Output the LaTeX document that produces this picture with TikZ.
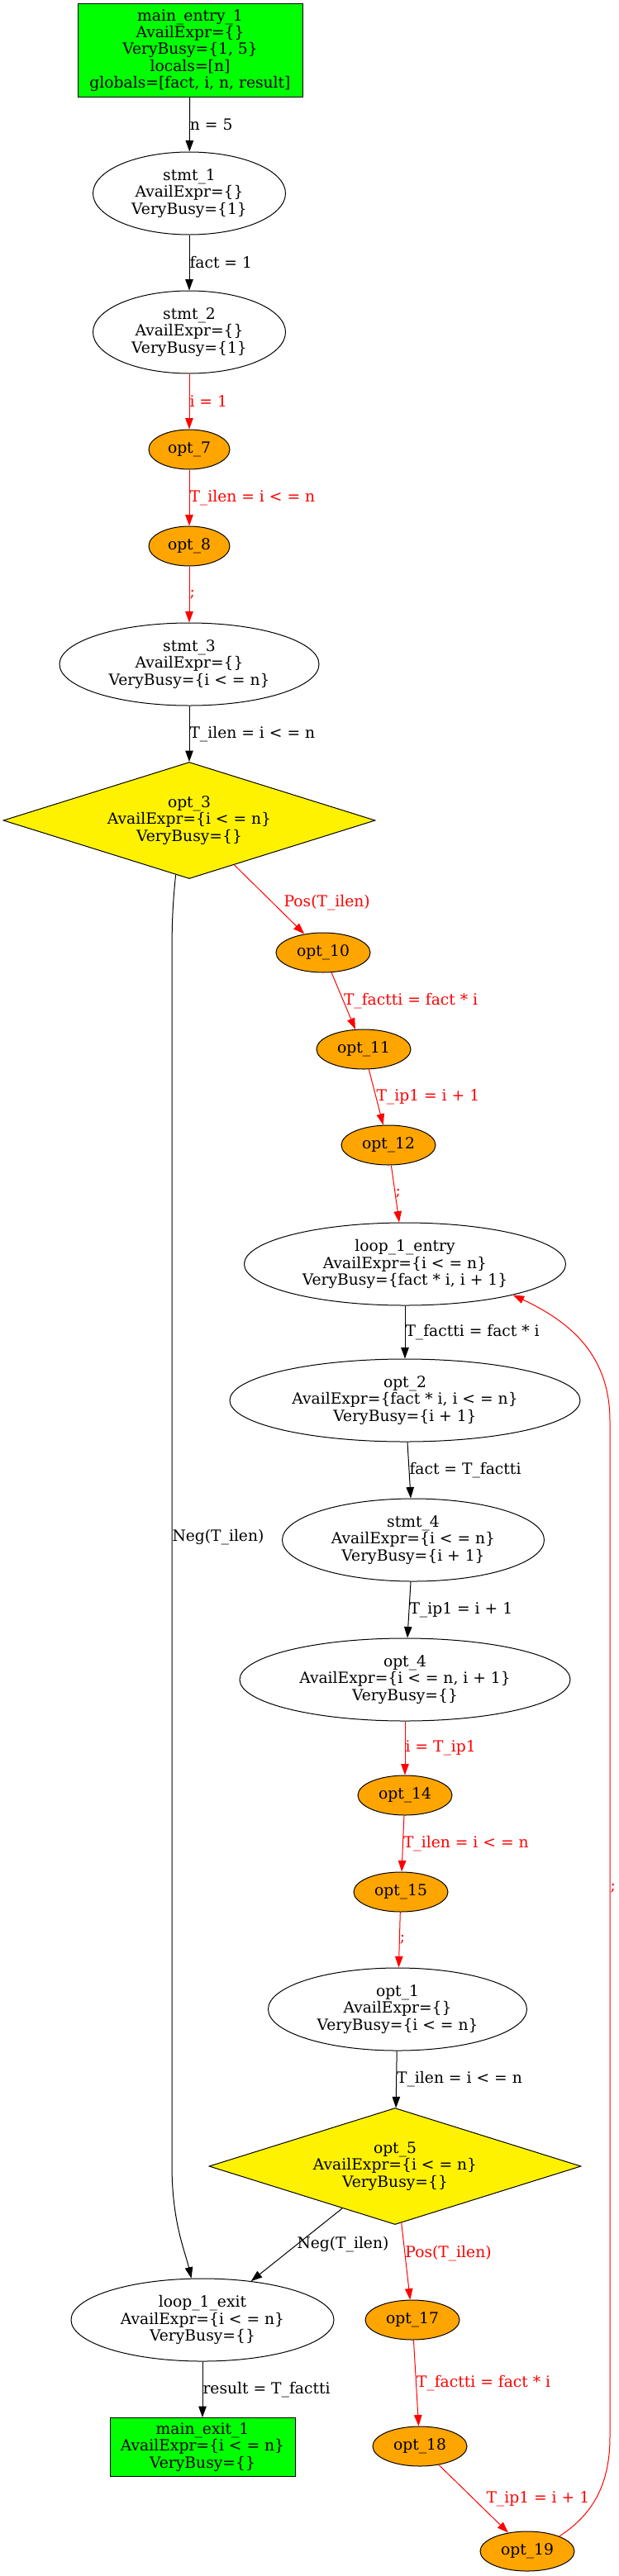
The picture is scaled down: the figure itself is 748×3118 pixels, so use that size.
\documentclass[tikz,border=0pt]{standalone}
\usepackage{fontspec}
\setmainfont{DejaVu Serif}
\usetikzlibrary{arrows.meta,shapes.geometric}
\definecolor{gvorange}{HTML}{FFA500}

\begin{document}
\begin{tikzpicture}[
			x=1pt, y=-1pt,
			every node/.style={
					font=\fontsize{18.7}{20.3}\selectfont,
					align=center,
					inner sep=0pt
				},
			blocknode/.style={draw, line width=1pt, fill=green, rectangle},
			stmtnode/.style={draw, line width=1pt, ellipse, minimum height=100pt},
			optnode/.style={draw, line width=1pt, ellipse, fill=gvorange, minimum width=114pt, minimum height=48pt},
			condnode/.style={draw, line width=1pt, diamond, fill=yellow, aspect=3.2, minimum width=450pt, minimum height=141pt},
			flow/.style={draw, line width=1pt, -{Triangle[length=13.5pt, width=9.5pt]}},
			optflow/.style={flow, red},
			lbl/.style={anchor=west}
		]
		\path[use as bounding box] (0,0) rectangle (748,3118);

		\node[blocknode, minimum width=272pt, minimum height=112pt] (mainentry) at (230,61) {main\_entry\_1\\AvailExpr=\{\}\\VeryBusy=\{1, 5\}\\locals=[n]\\globals=[fact, i, n, result]};
		\node[stmtnode, minimum width=233pt] (stmt1) at (229,234) {stmt\_1\\AvailExpr=\{\}\\VeryBusy=\{1\}};
		\node[stmtnode, minimum width=233pt] (stmt2) at (229,402) {stmt\_2\\AvailExpr=\{\}\\VeryBusy=\{1\}};
		\node[optnode, minimum width=98pt] (opt7) at (229,544) {opt\_7};
		\node[optnode, minimum width=98pt] (opt8) at (229,661) {opt\_8};
		\node[stmtnode, minimum width=314pt] (stmt3) at (229,804) {stmt\_3\\AvailExpr=\{\}\\VeryBusy=\{i < = n\}};
		\node[condnode] (opt3) at (229,993) {opt\_3\\AvailExpr=\{i < = n\}\\VeryBusy=\{\}};
		\node[optnode] (opt10) at (391,1153) {opt\_10};
		\node[optnode] (opt11) at (440,1270) {opt\_11};
		\node[optnode] (opt12) at (470,1386) {opt\_12};
		\node[stmtnode, minimum width=389pt] (loopentry) at (490,1530) {loop\_1\_entry\\AvailExpr=\{i < = n\}\\VeryBusy=\{fact * i, i + 1\}};
		\node[stmtnode, minimum width=424pt] (opt2) at (490,1695) {opt\_2\\AvailExpr=\{fact * i, i < = n\}\\VeryBusy=\{i + 1\}};
		\node[stmtnode, minimum width=317pt] (stmt4) at (500,1864) {stmt\_4\\AvailExpr=\{i < = n\}\\VeryBusy=\{i + 1\}};
		\node[stmtnode, minimum width=400pt] (opt4) at (490,2033) {opt\_4\\AvailExpr=\{i < = n, i + 1\}\\VeryBusy=\{\}};
		\node[optnode] (opt14) at (490,2173) {opt\_14};
		\node[optnode] (opt15) at (485,2290) {opt\_15};
		\node[stmtnode, minimum width=313pt] (opt1) at (481,2432) {opt\_1\\AvailExpr=\{\}\\VeryBusy=\{i < = n\}};
		\node[condnode] (opt5) at (478,2622) {opt\_5\\AvailExpr=\{i < = n\}\\VeryBusy=\{\}};
		\node[stmtnode, minimum width=318pt] (loopexit) at (245,2808) {loop\_1\_exit\\AvailExpr=\{i < = n\}\\VeryBusy=\{\}};
		\node[optnode] (opt17) at (499,2808) {opt\_17};
		\node[blocknode, minimum width=224pt, minimum height=71pt] (mainexit) at (245,2962) {main\_exit\_1\\AvailExpr=\{i < = n\}\\VeryBusy=\{\}};
		\node[optnode] (opt18) at (508,2961) {opt\_18};
		\node[optnode] (opt19) at (638,3088) {opt\_19};

		\draw[flow] (mainentry) -- node[lbl] {n = 5} (stmt1);
		\draw[flow] (stmt1) -- node[lbl] {fact = 1} (stmt2);
		\draw[optflow] (stmt2) -- node[lbl] {i = 1} (opt7);
		\draw[optflow] (opt7) -- node[lbl] {T\_ilen = i < = n} (opt8);
		\draw[optflow] (opt8) -- node[lbl] {;} (stmt3);
		\draw[flow] (stmt3) -- node[lbl] {T\_ilen = i < = n} (opt3);
		\draw[optflow] (opt3) -- node[lbl, pos=0.55, xshift=13pt] {Pos(T\_ilen)} (opt10);
		\draw[optflow] (opt10) -- node[lbl] {T\_factti = fact * i} (opt11);
		\draw[optflow] (opt11) -- node[lbl] {T\_ip1 = i + 1} (opt12);
		\draw[optflow] (opt12) -- node[lbl] {;} (loopentry);
		\draw[flow] (loopentry) -- node[lbl] {T\_factti = fact * i} (opt2);
		\draw[flow] (opt2) -- node[lbl] {fact = T\_factti} (stmt4);
		\draw[flow] (stmt4) -- node[lbl] {T\_ip1 = i + 1} (opt4);
		\draw[optflow] (opt4) -- node[lbl] {i = T\_ip1} (opt14);
		\draw[optflow] (opt14) -- node[lbl] {T\_ilen = i < = n} (opt15);
		\draw[optflow] (opt15) -- node[lbl] {;} (opt1);
		\draw[flow] (opt1) -- node[lbl] {T\_ilen = i < = n} (opt5);
		\draw[flow] (opt3.256) .. controls (209,1095) and (208,1115) .. (208,1160) -- node[lbl, pos=0.48] {Neg(T\_ilen)} (208,2620) .. controls (208,2690) and (224,2725) .. (loopexit.105);
		\draw[flow] (opt5) -- node[lbl] {Neg(T\_ilen)} (loopexit);
		\draw[optflow] (opt5) -- node[lbl, pos=0.4] {Pos(T\_ilen)} (opt17);
		\draw[flow] (loopexit) -- node[lbl] {result = T\_factti} (mainexit);
		\draw[optflow] (opt17) -- node[lbl] {T\_factti = fact * i} (opt18);
		\draw[optflow] (opt18) -- node[lbl, xshift=15pt] {T\_ip1 = i + 1} (opt19);
		\draw[optflow] (opt19.25) .. controls (715,3045) and (738,3010) .. (738,2950) -- node[lbl, pos=0.54] {;} (738,1720) .. controls (738,1640) and (690,1600) .. (loopentry.-16);
	\end{tikzpicture}
\end{document}
